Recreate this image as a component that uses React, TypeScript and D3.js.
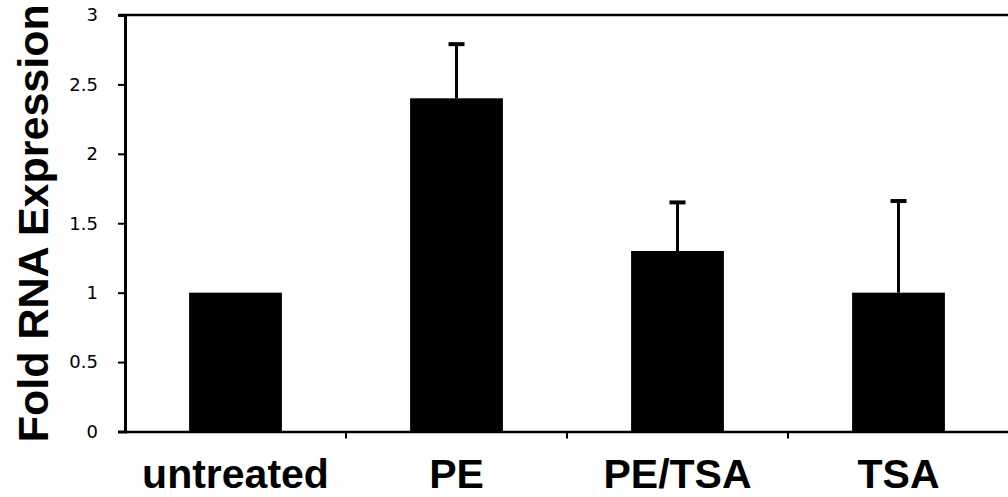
import { useEffect, useRef } from "react";
import * as d3 from "d3";

const categories = ["untreated", "PE", "PE/TSA", "TSA"];
const values = [1.0, 2.4, 1.3, 1.0];
const errors = [0, 0.39, 0.35, 0.66];
const yTicks = [0, 0.5, 1, 1.5, 2, 2.5, 3];

export default function App() {
  const svgRef = useRef(null);

  useEffect(() => {
    const width = 1008;
    const height = 497;
    const margin = { top: 15, right: -1, bottom: 65, left: 125 };

    const svg = d3.select(svgRef.current);
    svg.selectAll("*").remove();
    svg.attr("width", width).attr("height", height);

    const x = d3.scaleBand()
      .domain(categories)
      .range([margin.left, width - margin.right])
      .padding(0);

    const y = d3.scaleLinear()
      .domain([0, 3])
      .range([height - margin.bottom - 0.5, margin.top]);

    const barW = x.bandwidth() * 0.42;
    const data = categories.map((c, i) => ({ c, v: values[i], e: errors[i] }));

    // bars
    svg.append("g")
      .selectAll("rect")
      .data(data)
      .join("rect")
      .attr("x", d => x(d.c)! + x.bandwidth() / 2 - barW / 2)
      .attr("y", d => y(d.v))
      .attr("width", barW)
      .attr("height", d => y(0) - y(d.v))
      .attr("fill", "#000");

    // error bars (upper only)
    const err = svg.append("g").selectAll("g")
      .data(data.filter(d => d.e > 0))
      .join("g");
    err.append("line")
      .attr("x1", d => x(d.c)! + x.bandwidth() / 2)
      .attr("x2", d => x(d.c)! + x.bandwidth() / 2)
      .attr("y1", d => y(d.v))
      .attr("y2", d => y(d.v + d.e))
      .attr("stroke", "#000")
      .attr("stroke-width", 3);
    err.append("line")
      .attr("x1", d => x(d.c)! + x.bandwidth() / 2 - 8)
      .attr("x2", d => x(d.c)! + x.bandwidth() / 2 + 8)
      .attr("y1", d => y(d.v + d.e))
      .attr("y2", d => y(d.v + d.e))
      .attr("stroke", "#000")
      .attr("stroke-width", 4);

    // top frame line
    svg.append("line")
      .attr("x1", margin.left - 6)
      .attr("x2", width)
      .attr("y1", y(3))
      .attr("y2", y(3))
      .attr("stroke", "#000")
      .attr("stroke-width", 2.5);

    // y axis
    const yAxis = svg.append("g")
      .attr("transform", `translate(${margin.left},0)`)
      .call(d3.axisLeft(y).tickValues(yTicks).tickSize(7).tickPadding(20)
        .tickFormat(d => String(d)));
    yAxis.select(".domain").attr("stroke-width", 3);
    yAxis.selectAll(".tick line").attr("stroke-width", 2);
    yAxis.selectAll("text")
      .attr("font-family", "DejaVu Sans")
      .attr("font-size", 18)
      .attr("font-weight", 500)
      .attr("fill", "#000");

    // x axis
    const xAxis = svg.append("g")
      .attr("transform", `translate(0,${y(0)})`)
      .call(d3.axisBottom(x).tickSize(0).tickPadding(27));
    xAxis.select(".domain").attr("stroke-width", 2.5);
    xAxis.selectAll("text")
      .attr("font-family", "Liberation Sans, Arial, sans-serif")
      .attr("font-weight", "bold")
      .attr("font-size", 41)
      .attr("fill", "#000");

    // category boundary ticks
    svg.append("g")
      .selectAll("line")
      .data(categories.slice(1))
      .join("line")
      .attr("x1", d => x(d)!)
      .attr("x2", d => x(d)!)
      .attr("y1", y(0))
      .attr("y2", y(0) + 7)
      .attr("stroke", "#000")
      .attr("stroke-width", 2);

    // y title
    svg.append("text")
      .attr("transform", `translate(48,${(y(0) + y(3)) / 2}) rotate(-90)`)
      .attr("text-anchor", "middle")
      .attr("font-family", "Liberation Sans, Arial, sans-serif")
      .attr("font-weight", "bold")
      .attr("font-size", 43)
      .attr("fill", "#000")
      .text("Fold RNA Expression");
  }, []);

  return (
    <svg ref={svgRef} style={{ position: "absolute", left: 0, top: 0 }}></svg>
  );
}
